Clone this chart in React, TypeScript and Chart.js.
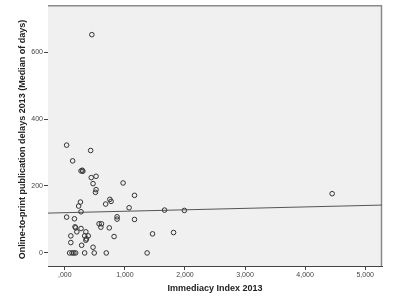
import React, { useEffect, useRef } from "react";
import { Chart, registerables } from "chart.js";

Chart.register(...registerables);

// Immediacy Index 2013 (x) vs online-to-print delay (median days, y)
const immediacyIndex = [
  0.45, 0.03, 0.43, 0.13, 0.27, 0.29, 0.3, 0.44, 0.52, 0.47, 0.52, 0.51,
  0.97, 1.16, 0.75, 0.77, 0.26, 0.23, 0.68, 1.07, 0.27, 1.66, 1.99, 0.03,
  0.16, 0.87, 0.87, 1.16, 0.57, 0.61, 0.6, 0.74, 0.17, 0.18, 0.27, 0.2,
  0.35, 0.33, 0.39, 0.1, 0.82, 0.36, 0.35, 0.1, 0.28, 0.47, 1.46, 1.81,
  0.08, 0.12, 0.15, 0.18, 0.33, 0.49, 0.69, 1.37, 4.45,
];
const delayDays = [
  652, 322, 306, 275, 245, 247, 244, 225, 229, 207, 189, 181,
  209, 172, 160, 154, 152, 140, 146, 135, 123, 128, 127, 107,
  102, 108, 101, 100, 87, 87, 77, 75, 78, 75, 73, 63,
  63, 51, 51, 51, 49, 42, 38, 31, 23, 17, 57, 61,
  0, 0, 0, 0, 0, 0, 0, 0, 177,
];
// Fit line endpoints
const fitX = [-0.28, 5.28];
const fitY = [119, 143];

const xTicks = [0, 1, 2, 3, 4, 5];
const xTickLabels = [",000", "1,000", "2,000", "3,000", "4,000", "5,000"];
const yTicks = [0, 200, 400, 600];
const yTickLabels = ["0", "200", "400", "600"];

const xTitle = "Immediacy Index 2013";
const yTitle = "Online-to-print publication delays 2013 (Median of days)";

const FONT = "'Liberation Sans', Arial, sans-serif";

export default function App() {
  const ref = useRef<HTMLCanvasElement | null>(null);

  useEffect(() => {
    document.body.style.margin = "0";
    const canvas = ref.current;
    if (!canvas) return;

    const bgPlugin = {
      id: "plotbg",
      beforeDatasetsDraw(chart: any) {
        const { ctx, chartArea: a } = chart;
        ctx.save();
        ctx.fillStyle = "#f0f0f0";
        ctx.fillRect(a.left, a.top, a.right - a.left, a.bottom - a.top);
        ctx.strokeStyle = "#8a8a8a";
        ctx.lineWidth = 1.5;
        ctx.beginPath();
        ctx.moveTo(a.left, a.top + 0.5);
        ctx.lineTo(a.right - 0.5, a.top + 0.5);
        ctx.lineTo(a.right - 0.5, a.bottom);
        ctx.stroke();
        ctx.restore();
      },
      afterDraw(chart: any) {
        const { ctx, chartArea: a } = chart;
        ctx.save();
        ctx.fillStyle = "#222";
        ctx.font = `bold 9px ${FONT}`;
        ctx.textAlign = "center";
        ctx.textBaseline = "middle";
        ctx.fillText(xTitle, (a.left + a.right) / 2, a.bottom + 23);
        ctx.translate(a.left - 25, (a.top + a.bottom) / 2 + 4);
        ctx.rotate(-Math.PI / 2);
        ctx.fillText(yTitle, 0, 0);
        ctx.restore();
      },
    };

    const points = immediacyIndex.map((x, i) => ({ x, y: delayDays[i] }));
    const fit = fitX.map((x, i) => ({ x, y: fitY[i] }));

    const chart = new Chart(canvas, {
      type: "scatter",
      data: {
        datasets: [
          {
            data: points,
            pointRadius: 2.3,
            pointBorderWidth: 1,
            pointBorderColor: "#333",
            pointBackgroundColor: "rgba(0,0,0,0)",
            showLine: false,
          },
          {
            data: fit,
            showLine: true,
            borderColor: "#555",
            borderWidth: 1,
            pointRadius: 0,
          } as any,
        ],
      },
      options: {
        responsive: false,
        animation: false,
        plugins: { legend: { display: false }, tooltip: { enabled: false } },
        layout: { padding: { top: 4, right: 18, left: 0, bottom: 0 } },
        scales: {
          x: {
            type: "linear",
            min: -0.28,
            max: 5.28,
            afterBuildTicks: (s: any) => {
              s.ticks = xTicks.map((v) => ({ value: v }));
            },
            afterFit: (s: any) => {
              s.height = 41;
            },
            ticks: {
              callback: (v: any) => xTickLabels[xTicks.indexOf(Number(v))] ?? "",
              font: { family: FONT, size: 7 },
              color: "#444",
              padding: 1,
              maxRotation: 0,
              autoSkip: false,
            },
            grid: { drawOnChartArea: false, drawTicks: true, tickLength: 4, color: "#444" },
            border: { display: true, color: "#444", width: 1 },
          },
          y: {
            type: "linear",
            min: -39,
            max: 740,
            afterBuildTicks: (s: any) => {
              s.ticks = yTicks.map((v) => ({ value: v }));
            },
            afterFit: (s: any) => {
              s.width = 48;
            },
            ticks: {
              callback: (v: any) => yTickLabels[yTicks.indexOf(Number(v))] ?? "",
              font: { family: FONT, size: 7 },
              color: "#444",
              padding: 1,
              autoSkip: false,
            },
            grid: { drawOnChartArea: false, drawTicks: true, tickLength: 4, color: "#444" },
            border: { display: true, color: "#444", width: 1 },
          },
        },
      },
      plugins: [bgPlugin],
    });

    return () => chart.destroy();
  }, []);

  return (
    <div style={{ width: 400, height: 307, background: "#fff" }}>
      <canvas ref={ref} width={400} height={307} />
    </div>
  );
}
